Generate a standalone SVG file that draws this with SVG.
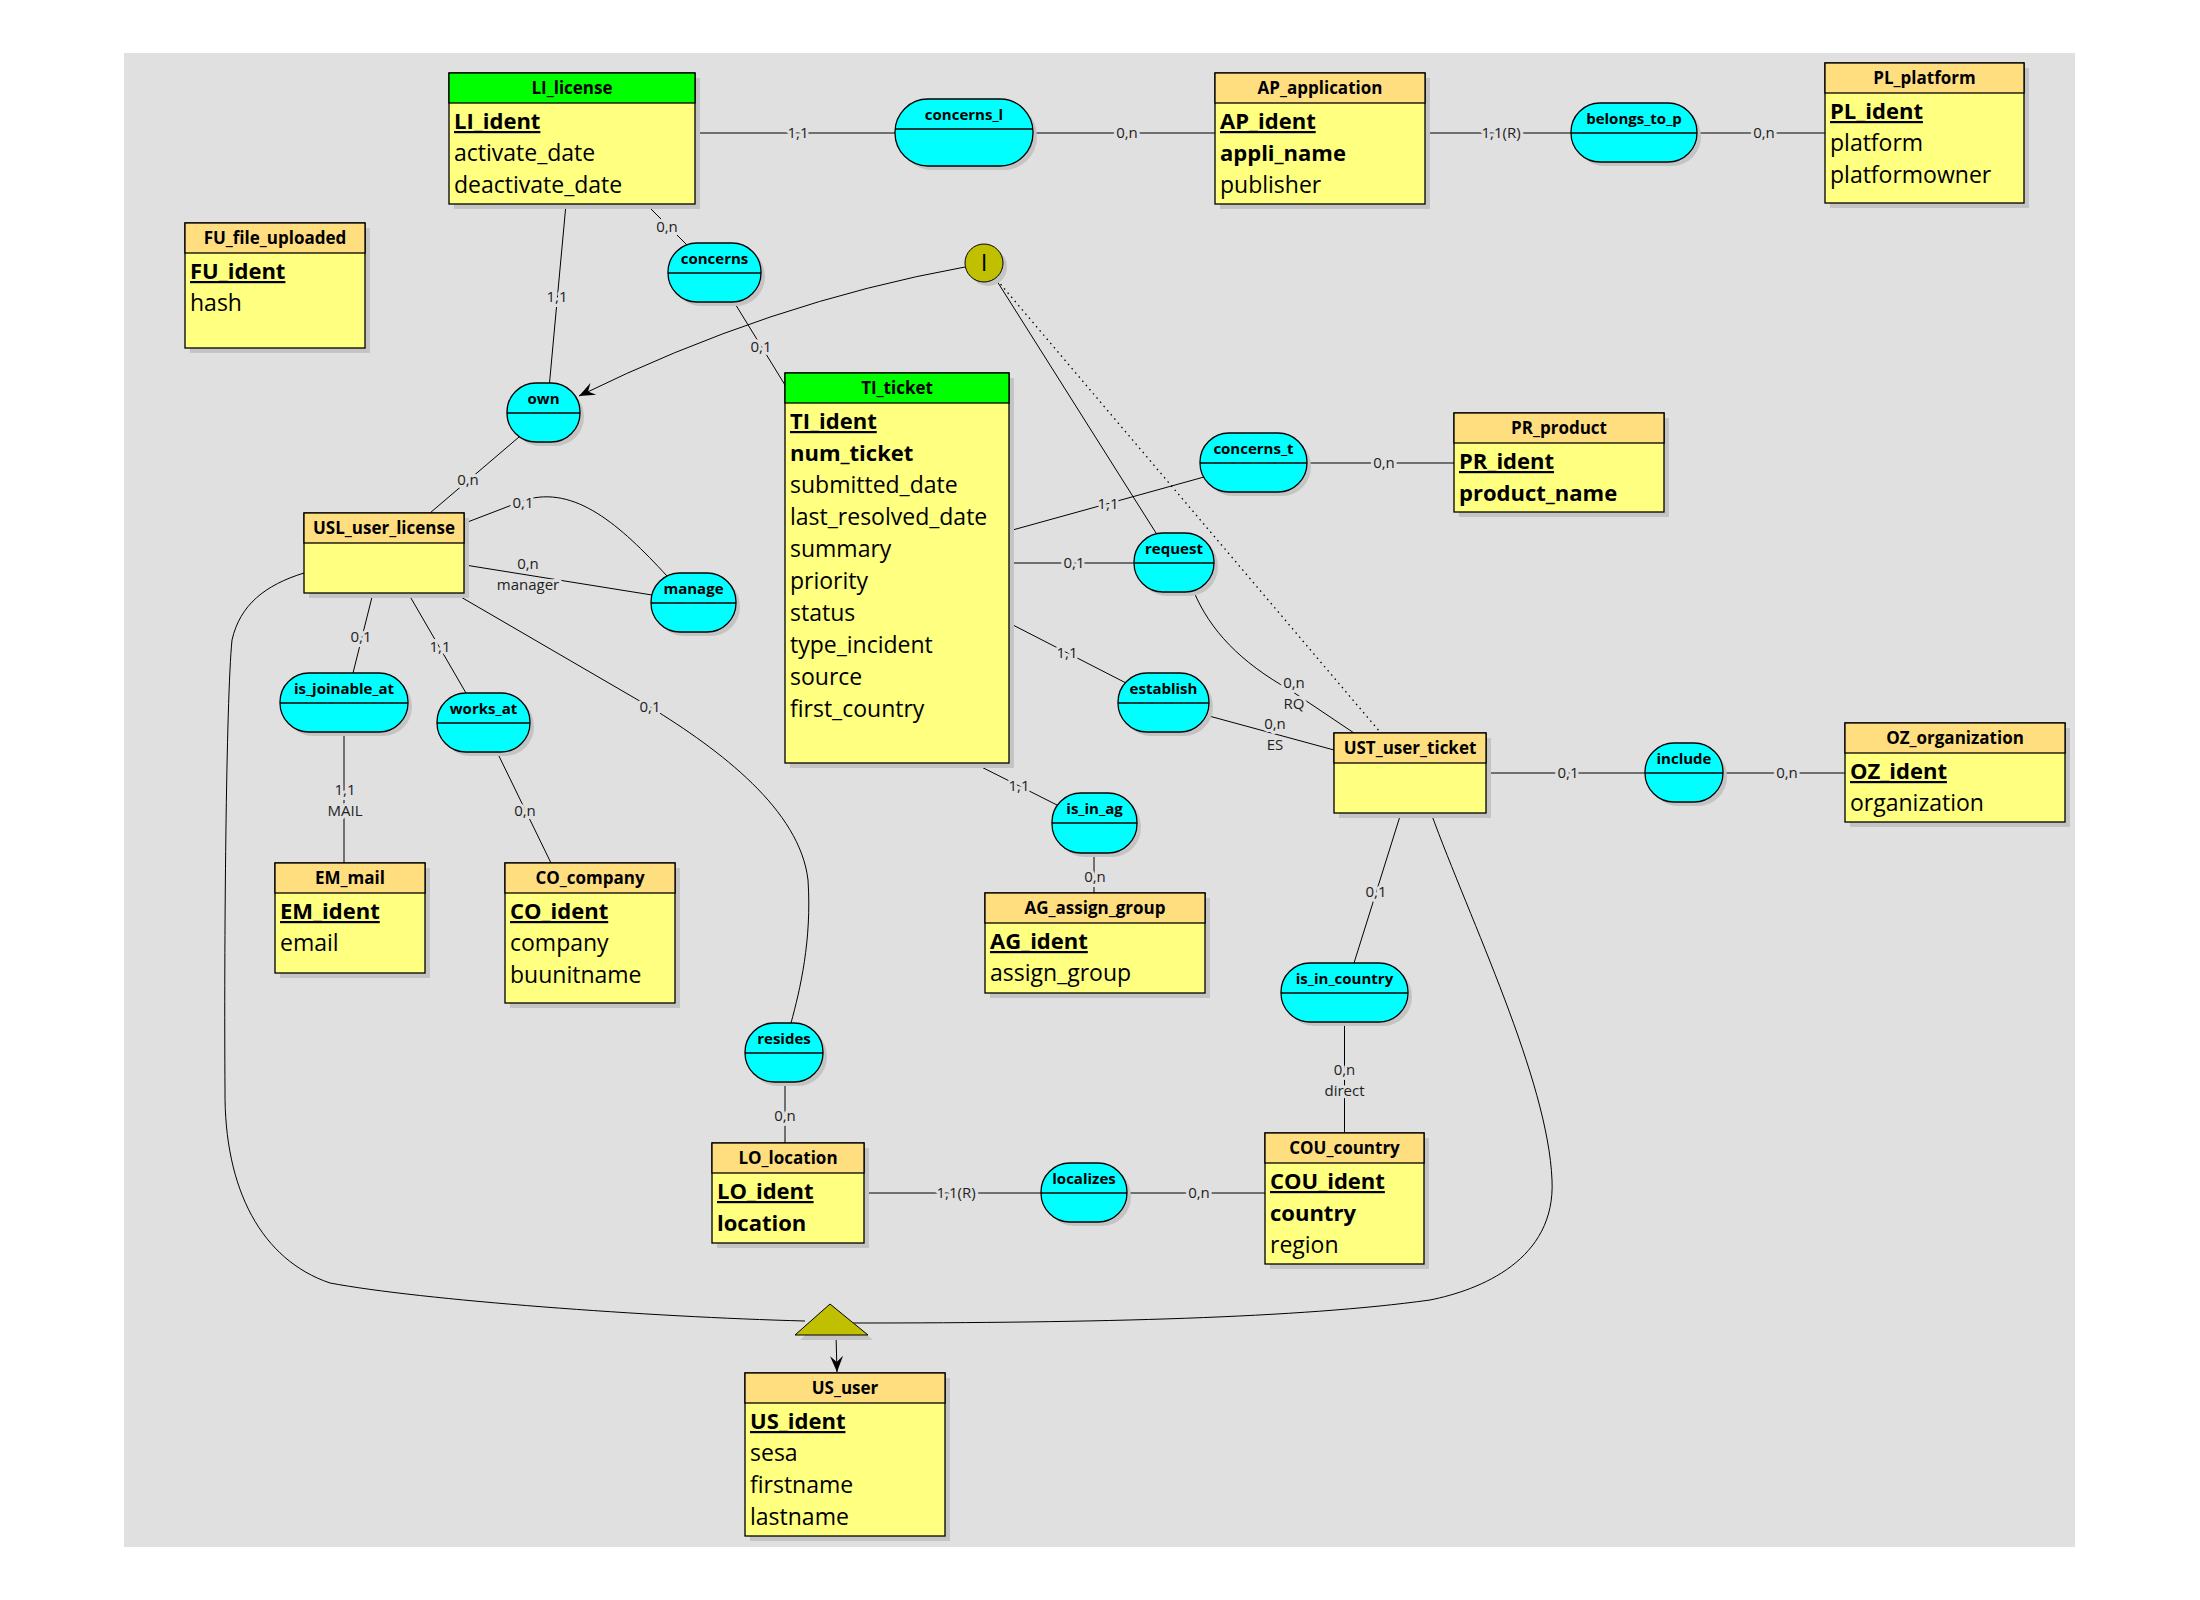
<svg xmlns="http://www.w3.org/2000/svg" width="2200" height="1600" viewBox="0 0 2200 1600">
<defs>
<style>
.ent{fill:#FFFF80;stroke:#000;stroke-width:1.3}
.hd{fill:#FFDE80;stroke:#000;stroke-width:1.3}
.hg{fill:#00FF00;stroke:#000;stroke-width:1.3}
.sh{fill:#C4C4C4}
.rel{fill:#00FFFF;stroke:#000;stroke-width:1.3}
.dv{stroke:#000;stroke-width:1.3}
.ht{font-family:"Open Sans","Noto Sans",sans-serif;font-weight:bold;font-size:17px;text-anchor:middle;fill:#000}
.id{font-family:"Open Sans","Noto Sans",sans-serif;font-weight:bold;font-size:22px;text-decoration:underline;fill:#000}
.b{font-family:"Open Sans","Noto Sans",sans-serif;font-weight:bold;font-size:22px;fill:#000}
.a{font-family:"Open Sans","Noto Sans",sans-serif;font-size:23px;fill:#000}
.rt{font-family:"Open Sans","Noto Sans",sans-serif;font-weight:bold;font-size:15px;text-anchor:middle;fill:#000}
.cd{font-family:"Open Sans","Noto Sans",sans-serif;font-size:15px;font-kerning:none;text-anchor:middle;fill:#222;stroke:#E0E0E0;stroke-width:6;paint-order:stroke;stroke-linejoin:round}
.ln{stroke:#000;stroke-width:1;fill:none}
.dot{stroke:#000;stroke-width:1.3;fill:none;stroke-dasharray:1.5 4}
.ol{fill:#C0C000;stroke:#000;stroke-width:1}
</style>
<marker id="arr" markerUnits="userSpaceOnUse" markerWidth="20" markerHeight="16" viewBox="-16 -8 17 16" refX="0" refY="0" orient="auto">
<path d="M0,0 L-16,-6.5 L-10,0 L-16,6.5 Z" fill="#000"/>
</marker>
</defs>
<rect x="0" y="0" width="2200" height="1600" fill="#FFFFFF"/>
<rect x="124" y="53" width="1951" height="1494" fill="#E0E0E0"/>

<g id="connectors">
<line class="ln" x1="695" y1="133" x2="895" y2="133"/>
<line class="ln" x1="1033" y1="133" x2="1215" y2="133"/>
<line class="ln" x1="1425" y1="133" x2="1571" y2="133"/>
<line class="ln" x1="1697" y1="133" x2="1825" y2="133"/>
<line class="ln" x1="566" y1="204" x2="549.5" y2="383"/>
<line class="ln" x1="646" y1="204" x2="688" y2="246"/>
<line class="ln" x1="734" y1="302" x2="785" y2="385"/>
<line class="ln" x1="519" y1="437" x2="430" y2="513"/>
<path class="ln" d="M465,523 L525,500 C575,485 620,525 667,576"/>
<line class="ln" x1="465" y1="565" x2="652" y2="595"/>
<line class="ln" x1="373" y1="593" x2="353" y2="673"/>
<line class="ln" x1="344" y1="732" x2="344" y2="863"/>
<line class="ln" x1="408" y1="593" x2="466" y2="693"/>
<line class="ln" x1="497" y1="752" x2="551" y2="863"/>
<path class="ln" d="M454,593 L650,707 C720,750 800,810 808,880 C812,940 800,990 791,1023"/>
<line class="ln" x1="785" y1="1082" x2="785" y2="1143"/>
<line class="ln" x1="864" y1="1193" x2="1041" y2="1193"/>
<line class="ln" x1="1127" y1="1193" x2="1265" y2="1193"/>
<line class="ln" x1="1344.5" y1="1022" x2="1344.5" y2="1133"/>
<line class="ln" x1="1401" y1="813" x2="1354" y2="963"/>
<line class="ln" x1="975.5" y1="764" x2="1057" y2="805"/>
<line class="ln" x1="1094" y1="853" x2="1094" y2="893"/>
<line class="ln" x1="1009" y1="531" x2="1204" y2="477"/>
<line class="ln" x1="1307" y1="463" x2="1454" y2="463"/>
<line class="ln" x1="1009" y1="563" x2="1134" y2="563"/>
<line class="ln" x1="1009" y1="623" x2="1126" y2="683"/>
<line class="ln" x1="1209" y1="716" x2="1334" y2="750"/>
<path class="ln" d="M1194,592 C1210,630 1240,662 1290,690 L1354,733"/>
<line class="ln" x1="1486" y1="773" x2="1645" y2="773"/>
<line class="ln" x1="1723" y1="773" x2="1845" y2="773"/>
<line class="ln" x1="995" y1="278" x2="1156" y2="533"/>
<line class="dot" x1="997" y1="280" x2="1380" y2="732"/>
<path class="ln" d="M965,267 Q770,302 579,396" marker-end="url(#arr)"/>
<path class="ln" d="M304,573 C265,585 240,605 232,640 C226,700 224,950 225,1090 C224,1190 262,1260 330,1283 C420,1300 650,1317 805,1321"/>
<path class="ln" d="M1431,813 C1470,920 1548,1080 1552,1180 C1556,1260 1480,1290 1430,1300 C1300,1318 1100,1323 853,1323"/>
<line class="ln" x1="836" y1="1335" x2="837" y2="1372" marker-end="url(#arr)"/>

<text class="cd" x="798" y="138">1,1</text>
<text class="cd" x="1127" y="138">0,n</text>
<text class="cd" x="1501" y="138">1,1(R)</text>
<text class="cd" x="1764" y="138">0,n</text>
<text class="cd" x="557" y="302">1,1</text>
<text class="cd" x="667" y="232">0,n</text>
<text class="cd" x="761" y="352">0,1</text>
<text class="cd" x="468" y="485">0,n</text>
<text class="cd" x="523" y="508">0,1</text>
<text class="cd" x="528" y="569">0,n</text>
<text class="cd" x="528" y="590">manager</text>
<text class="cd" x="361" y="642">0,1</text>
<text class="cd" x="345" y="795">1,1</text>
<text class="cd" x="345" y="816">MAIL</text>
<text class="cd" x="440" y="652">1,1</text>
<text class="cd" x="525" y="816">0,n</text>
<text class="cd" x="650" y="712">0,1</text>
<text class="cd" x="785" y="1121">0,n</text>
<text class="cd" x="956" y="1198">1,1(R)</text>
<text class="cd" x="1199" y="1198">0,n</text>
<text class="cd" x="1344.5" y="1075">0,n</text>
<text class="cd" x="1344.5" y="1096">direct</text>
<text class="cd" x="1376" y="897">0,1</text>
<text class="cd" x="1019" y="791">1,1</text>
<text class="cd" x="1095" y="882">0,n</text>
<text class="cd" x="1108" y="509">1,1</text>
<text class="cd" x="1384" y="468">0,n</text>
<text class="cd" x="1074" y="568">0,1</text>
<text class="cd" x="1067" y="658">1,1</text>
<text class="cd" x="1275" y="729">0,n</text>
<text class="cd" x="1275" y="750">ES</text>
<text class="cd" x="1294" y="688">0,n</text>
<text class="cd" x="1294" y="709">RQ</text>
<text class="cd" x="1568" y="778">0,1</text>
<text class="cd" x="1787" y="778">0,n</text>
</g>

<g id="LI_license">
<rect class="sh" x="454" y="78" width="246" height="131"/>
<rect class="ent" x="449" y="73" width="246" height="131"/>
<rect class="hg" x="449" y="73" width="246" height="30"/>
<text class="ht" x="572" y="94">LI_license</text>
<text class="id" x="454" y="129">LI_ident</text>
<text class="a" x="454" y="161">activate_date</text>
<text class="a" x="454" y="193">deactivate_date</text>
</g>

<g id="FU_file_uploaded">
<rect class="sh" x="190" y="228" width="180" height="125"/>
<rect class="ent" x="185" y="223" width="180" height="125"/>
<rect class="hd" x="185" y="223" width="180" height="30"/>
<text class="ht" x="275" y="244">FU_file_uploaded</text>
<text class="id" x="190" y="279">FU_ident</text>
<text class="a" x="190" y="311">hash</text>
</g>

<g id="AP_application">
<rect class="sh" x="1220" y="78" width="210" height="131"/>
<rect class="ent" x="1215" y="73" width="210" height="131"/>
<rect class="hd" x="1215" y="73" width="210" height="30"/>
<text class="ht" x="1320" y="94">AP_application</text>
<text class="id" x="1220" y="129">AP_ident</text>
<text class="b" x="1220" y="161">appli_name</text>
<text class="a" x="1220" y="193">publisher</text>
</g>

<g id="PL_platform">
<rect class="sh" x="1830" y="68" width="199" height="140"/>
<rect class="ent" x="1825" y="63" width="199" height="140"/>
<rect class="hd" x="1825" y="63" width="199" height="30"/>
<text class="ht" x="1924.5" y="84">PL_platform</text>
<text class="id" x="1830" y="119">PL_ident</text>
<text class="a" x="1830" y="151">platform</text>
<text class="a" x="1830" y="183">platformowner</text>
</g>

<g id="TI_ticket">
<rect class="sh" x="790" y="378" width="224" height="390"/>
<rect class="ent" x="785" y="373" width="224" height="390"/>
<rect class="hg" x="785" y="373" width="224" height="30"/>
<text class="ht" x="897" y="394">TI_ticket</text>
<text class="id" x="790" y="429">TI_ident</text>
<text class="b" x="790" y="461">num_ticket</text>
<text class="a" x="790" y="493">submitted_date</text>
<text class="a" x="790" y="525">last_resolved_date</text>
<text class="a" x="790" y="557">summary</text>
<text class="a" x="790" y="589">priority</text>
<text class="a" x="790" y="621">status</text>
<text class="a" x="790" y="653">type_incident</text>
<text class="a" x="790" y="685">source</text>
<text class="a" x="790" y="717">first_country</text>
</g>

<g id="PR_product">
<rect class="sh" x="1459" y="418" width="210" height="99"/>
<rect class="ent" x="1454" y="413" width="210" height="99"/>
<rect class="hd" x="1454" y="413" width="210" height="30"/>
<text class="ht" x="1559" y="434">PR_product</text>
<text class="id" x="1459" y="469">PR_ident</text>
<text class="b" x="1459" y="501">product_name</text>
</g>

<g id="USL_user_license">
<rect class="sh" x="309" y="518" width="160" height="80"/>
<rect class="ent" x="304" y="513" width="160" height="80"/>
<rect class="hd" x="304" y="513" width="160" height="30"/>
<text class="ht" x="384" y="534">USL_user_license</text>
</g>

<g id="UST_user_ticket">
<rect class="sh" x="1339" y="738" width="152" height="80"/>
<rect class="ent" x="1334" y="733" width="152" height="80"/>
<rect class="hd" x="1334" y="733" width="152" height="30"/>
<text class="ht" x="1410" y="754">UST_user_ticket</text>
</g>

<g id="OZ_organization">
<rect class="sh" x="1850" y="728" width="220" height="99"/>
<rect class="ent" x="1845" y="723" width="220" height="99"/>
<rect class="hd" x="1845" y="723" width="220" height="30"/>
<text class="ht" x="1955" y="744">OZ_organization</text>
<text class="id" x="1850" y="779">OZ_ident</text>
<text class="a" x="1850" y="811">organization</text>
</g>

<g id="EM_mail">
<rect class="sh" x="280" y="868" width="150" height="110"/>
<rect class="ent" x="275" y="863" width="150" height="110"/>
<rect class="hd" x="275" y="863" width="150" height="30"/>
<text class="ht" x="350" y="884">EM_mail</text>
<text class="id" x="280" y="919">EM_ident</text>
<text class="a" x="280" y="951">email</text>
</g>

<g id="CO_company">
<rect class="sh" x="510" y="868" width="170" height="140"/>
<rect class="ent" x="505" y="863" width="170" height="140"/>
<rect class="hd" x="505" y="863" width="170" height="30"/>
<text class="ht" x="590" y="884">CO_company</text>
<text class="id" x="510" y="919">CO_ident</text>
<text class="a" x="510" y="951">company</text>
<text class="a" x="510" y="983">buunitname</text>
</g>

<g id="AG_assign_group">
<rect class="sh" x="990" y="898" width="220" height="100"/>
<rect class="ent" x="985" y="893" width="220" height="100"/>
<rect class="hd" x="985" y="893" width="220" height="30"/>
<text class="ht" x="1095" y="914">AG_assign_group</text>
<text class="id" x="990" y="949">AG_ident</text>
<text class="a" x="990" y="981">assign_group</text>
</g>

<g id="LO_location">
<rect class="sh" x="717" y="1148" width="152" height="100"/>
<rect class="ent" x="712" y="1143" width="152" height="100"/>
<rect class="hd" x="712" y="1143" width="152" height="30"/>
<text class="ht" x="788" y="1164">LO_location</text>
<text class="id" x="717" y="1199">LO_ident</text>
<text class="b" x="717" y="1231">location</text>
</g>

<g id="COU_country">
<rect class="sh" x="1270" y="1138" width="159" height="131"/>
<rect class="ent" x="1265" y="1133" width="159" height="131"/>
<rect class="hd" x="1265" y="1133" width="159" height="30"/>
<text class="ht" x="1344.5" y="1154">COU_country</text>
<text class="id" x="1270" y="1189">COU_ident</text>
<text class="b" x="1270" y="1221">country</text>
<text class="a" x="1270" y="1253">region</text>
</g>

<g id="US_user">
<rect class="sh" x="750" y="1378" width="200" height="163"/>
<rect class="ent" x="745" y="1373" width="200" height="163"/>
<rect class="hd" x="745" y="1373" width="200" height="30"/>
<text class="ht" x="845" y="1394">US_user</text>
<text class="id" x="750" y="1429">US_ident</text>
<text class="a" x="750" y="1461">sesa</text>
<text class="a" x="750" y="1493">firstname</text>
<text class="a" x="750" y="1525">lastname</text>
</g>

<g id="concerns_l">
<rect class="sh" x="899" y="103" width="138" height="67" rx="33" ry="33"/>
<rect class="rel" x="895" y="99" width="138" height="67" rx="33" ry="33"/>
<line class="dv" x1="895" y1="129" x2="1033" y2="129"/>
<text class="rt" x="964" y="120">concerns_l</text>
</g>
<g id="belongs_to_p">
<rect class="sh" x="1575" y="107" width="126" height="59" rx="29" ry="29"/>
<rect class="rel" x="1571" y="103" width="126" height="59" rx="29" ry="29"/>
<line class="dv" x1="1571" y1="133" x2="1697" y2="133"/>
<text class="rt" x="1634" y="124">belongs_to_p</text>
</g>
<g id="concerns">
<rect class="sh" x="672" y="247" width="93" height="59" rx="29" ry="29"/>
<rect class="rel" x="668" y="243" width="93" height="59" rx="29" ry="29"/>
<line class="dv" x1="668" y1="273" x2="761" y2="273"/>
<text class="rt" x="714.5" y="264">concerns</text>
</g>
<g id="own">
<rect class="sh" x="511" y="387" width="73" height="59" rx="29" ry="29"/>
<rect class="rel" x="507" y="383" width="73" height="59" rx="29" ry="29"/>
<line class="dv" x1="507" y1="413" x2="580" y2="413"/>
<text class="rt" x="543.5" y="404">own</text>
</g>
<g id="manage">
<rect class="sh" x="655" y="577" width="85" height="59" rx="29" ry="29"/>
<rect class="rel" x="651" y="573" width="85" height="59" rx="29" ry="29"/>
<line class="dv" x1="651" y1="603" x2="736" y2="603"/>
<text class="rt" x="693.5" y="594">manage</text>
</g>
<g id="is_joinable_at">
<rect class="sh" x="284" y="677" width="128" height="59" rx="29" ry="29"/>
<rect class="rel" x="280" y="673" width="128" height="59" rx="29" ry="29"/>
<line class="dv" x1="280" y1="703" x2="408" y2="703"/>
<text class="rt" x="344" y="694">is_joinable_at</text>
</g>
<g id="works_at">
<rect class="sh" x="441" y="697" width="93" height="59" rx="29" ry="29"/>
<rect class="rel" x="437" y="693" width="93" height="59" rx="29" ry="29"/>
<line class="dv" x1="437" y1="723" x2="530" y2="723"/>
<text class="rt" x="483.5" y="714">works_at</text>
</g>
<g id="concerns_t">
<rect class="sh" x="1204" y="437" width="107" height="59" rx="29" ry="29"/>
<rect class="rel" x="1200" y="433" width="107" height="59" rx="29" ry="29"/>
<line class="dv" x1="1200" y1="463" x2="1307" y2="463"/>
<text class="rt" x="1253.5" y="454">concerns_t</text>
</g>
<g id="request">
<rect class="sh" x="1138" y="537" width="80" height="59" rx="29" ry="29"/>
<rect class="rel" x="1134" y="533" width="80" height="59" rx="29" ry="29"/>
<line class="dv" x1="1134" y1="563" x2="1214" y2="563"/>
<text class="rt" x="1174" y="554">request</text>
</g>
<g id="establish">
<rect class="sh" x="1122" y="677" width="91" height="59" rx="29" ry="29"/>
<rect class="rel" x="1118" y="673" width="91" height="59" rx="29" ry="29"/>
<line class="dv" x1="1118" y1="703" x2="1209" y2="703"/>
<text class="rt" x="1163.5" y="694">establish</text>
</g>
<g id="is_in_ag">
<rect class="sh" x="1056" y="797" width="85" height="60" rx="29" ry="29"/>
<rect class="rel" x="1052" y="793" width="85" height="60" rx="29" ry="29"/>
<line class="dv" x1="1052" y1="823" x2="1137" y2="823"/>
<text class="rt" x="1094.5" y="814">is_in_ag</text>
</g>
<g id="include">
<rect class="sh" x="1649" y="747" width="78" height="59" rx="29" ry="29"/>
<rect class="rel" x="1645" y="743" width="78" height="59" rx="29" ry="29"/>
<line class="dv" x1="1645" y1="773" x2="1723" y2="773"/>
<text class="rt" x="1684" y="764">include</text>
</g>
<g id="is_in_country">
<rect class="sh" x="1285" y="967" width="127" height="59" rx="29" ry="29"/>
<rect class="rel" x="1281" y="963" width="127" height="59" rx="29" ry="29"/>
<line class="dv" x1="1281" y1="993" x2="1408" y2="993"/>
<text class="rt" x="1344.5" y="984">is_in_country</text>
</g>
<g id="resides">
<rect class="sh" x="749" y="1027" width="78" height="59" rx="29" ry="29"/>
<rect class="rel" x="745" y="1023" width="78" height="59" rx="29" ry="29"/>
<line class="dv" x1="745" y1="1053" x2="823" y2="1053"/>
<text class="rt" x="784" y="1044">resides</text>
</g>
<g id="localizes">
<rect class="sh" x="1045" y="1167" width="86" height="59" rx="29" ry="29"/>
<rect class="rel" x="1041" y="1163" width="86" height="59" rx="29" ry="29"/>
<line class="dv" x1="1041" y1="1193" x2="1127" y2="1193"/>
<text class="rt" x="1084" y="1184">localizes</text>
</g>

<g id="constraint_I">
<circle class="sh" cx="988" cy="267" r="19"/>
<circle class="ol" cx="984" cy="263" r="19"/>
<text x="984" y="271" font-family="Open Sans, sans-serif" font-size="24" text-anchor="middle" fill="#000">I</text>
</g>

<g id="inheritance">
<polygon class="sh" points="835,1309 800,1340 873,1340"/>
<polygon class="ol" points="830,1304 795,1335 868,1335"/>
</g>
</svg>
